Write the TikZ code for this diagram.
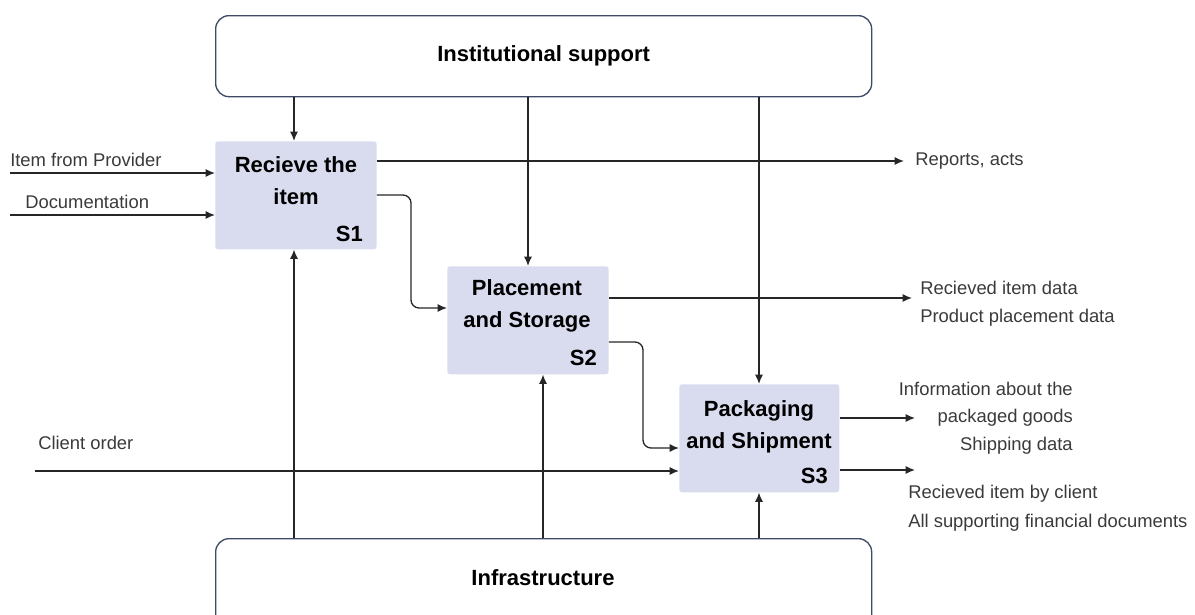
\documentclass[tikz,border=0pt]{standalone}
\usepackage{fontspec}
\setmainfont{Liberation Sans}
\usetikzlibrary{arrows.meta}
\definecolor{boxfill}{HTML}{D9DCEF}
\definecolor{frame}{HTML}{3E4A66}
\definecolor{lbl}{HTML}{3A3A3A}
\begin{document}
\begin{tikzpicture}[x=0.75pt,y=-0.75pt,
  proc/.style={fill=boxfill,draw=none,rounded corners=2pt,minimum width=121pt,minimum height=81pt,inner sep=0pt},
  ctl/.style={draw=frame,line width=1pt,rounded corners=10pt,minimum width=492pt,inner sep=0pt},
  title/.style={font=\fontsize{16.5}{24}\selectfont\bfseries,align=center,inner sep=0pt},
  tag/.style={font=\fontsize{16.5}{20}\selectfont\bfseries,inner sep=0pt},
  lab/.style={font=\fontsize{13.8}{21}\selectfont,text=lbl,inner sep=0pt},
  flow/.style={draw=black!85,line width=1pt,-{Latex[length=7pt,width=6pt]}},
  elbow/.style={flow,rounded corners=6pt}]
\useasboundingbox (0,0) rectangle (1195,614);
\clip (0,0) rectangle (1195,614);
% control and mechanism boxes
\node[ctl,minimum height=60.75pt,anchor=north west] (inst) at (215,15) {};
\node[title] at (inst.center) {Institutional support};
\node[ctl,minimum height=72pt,anchor=north west] (infra) at (215,538) {};
\node[title] at (543,578) {Infrastructure};
% processes
\node[proc,anchor=north west] (s1) at (215,141) {};
\node[title] at (296,181) {Recieve the\\item};
\node[tag,anchor=east] at (363,234) {S1};
\node[proc,anchor=north west] (s2) at (447,266) {};
\node[title] at (527,306) {Placement\\and Storage};
\node[tag,anchor=east] at (597,358) {S2};
\node[proc,anchor=north west,minimum width=120pt] (s3) at (679,384) {};
\node[title] at (759,427) {Packaging\\and Shipment};
\node[tag,anchor=east] at (828,476) {S3};
% coordinates
\coordinate (ip) at (10,173);
\coordinate (id) at (10,215);
\coordinate (ic) at (35,471);
\coordinate (o1) at (904,161);
\coordinate (o2) at (912,298);
\coordinate (o3) at (915,418);
\coordinate (o4) at (915,470);
% inputs
\draw[flow] (ip) -- (ip -| s1.west);
\node[lab,anchor=west] at (10,160) {Item from Provider};
\draw[flow] (id) -- (id -| s1.west);
\node[lab,anchor=west] at (25,202) {Documentation};
\draw[flow] (ic) -- (ic -| s3.west);
\node[lab,anchor=west] at (38,443) {Client order};
% controls
\draw[flow] (inst.south -| 294,0) -- (s1.north -| 294,0);
\draw[flow] (inst.south -| 528,0) -- (s2.north -| 528,0);
\draw[flow] (inst.south -| 759,0) -- (s3.north -| 759,0);
% mechanisms
\draw[flow] (infra.north -| 294,0) -- (s1.south -| 294,0);
\draw[flow] (infra.north -| 543,0) -- (s2.south -| 543,0);
\draw[flow] (infra.north -| 759,0) -- (s3.south -| 759,0);
% internal flows
\draw[elbow] (s1.east |- 0,195) -- (411,195) -- (411,308) -- (s2.west |- 0,308);
\draw[elbow] (s2.east |- 0,342) -- (643,342) -- (643,448) -- (s3.west |- 0,448);
% outputs
\draw[flow] (s1.east |- o1) -- (o1);
\node[lab,anchor=west] at (915,161) {Reports, acts};
\draw[flow] (s2.east |- o2) -- (o2);
\node[lab,anchor=west,align=left] at (920,304) {Recieved item data\\Product placement data};
\draw[flow] (s3.east |- o3) -- (o3);
\node[lab,anchor=east,align=right,font=\fontsize{13.8}{20.6}\selectfont] at (1073,418) {Information about the\\packaged goods\\Shipping data};
\draw[flow] (s3.east |- o4) -- (o4);
\node[lab,anchor=west,align=left,font=\fontsize{13.8}{21.75}\selectfont] at (908,508) {Recieved item by client\\All supporting financial documents};
\end{tikzpicture}
\end{document}
